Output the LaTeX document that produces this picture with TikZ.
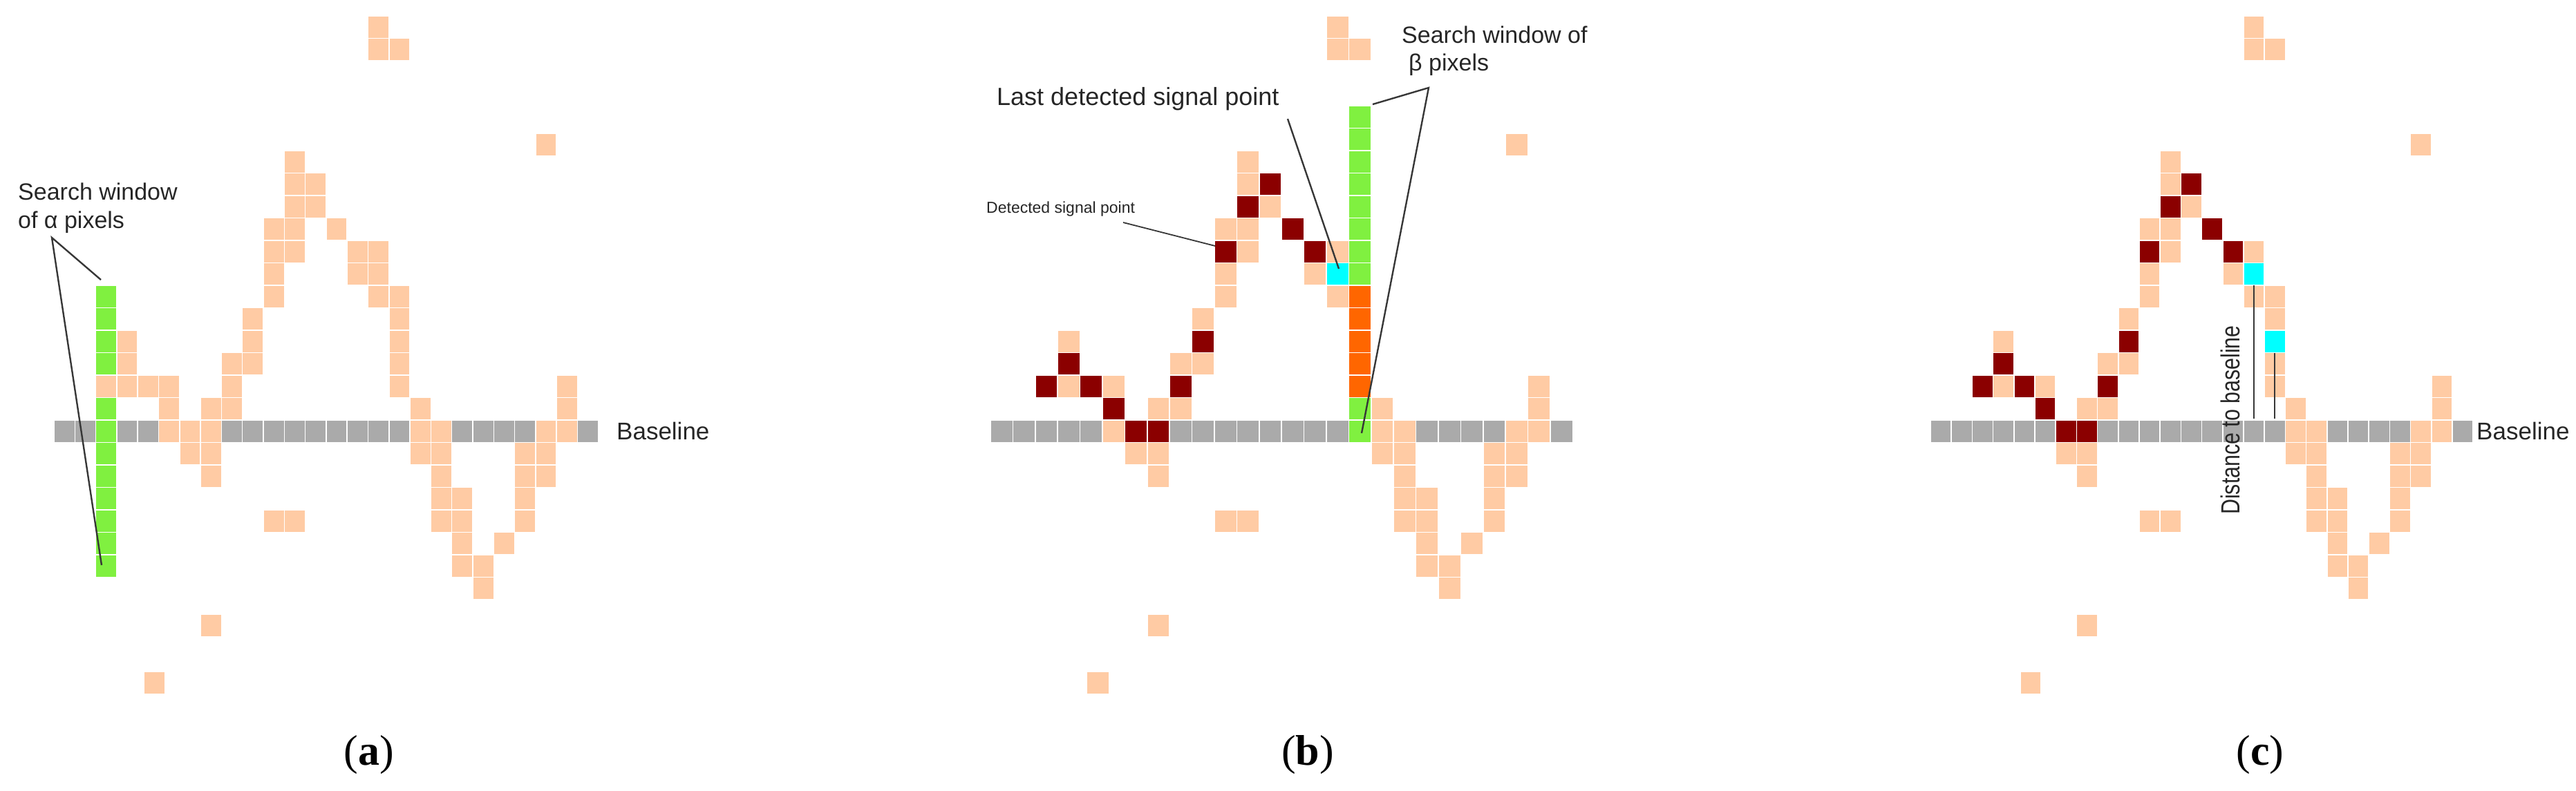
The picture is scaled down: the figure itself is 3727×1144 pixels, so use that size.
\documentclass[tikz,border=0pt]{standalone}
\usepackage{fontspec}
\setmainfont{Liberation Sans}
\newfontfamily\serifpanel{Liberation Serif}
\definecolor{peach}{RGB}{255,203,164}
\definecolor{basegray}{RGB}{170,170,170}
\definecolor{wgreen}{RGB}{128,240,64}
\definecolor{dred}{RGB}{139,0,0}
\definecolor{wcyan}{RGB}{0,255,255}
\definecolor{worange}{RGB}{255,102,0}
\definecolor{linegray}{RGB}{55,55,55}
\newcommand\pcells[4]{\foreach \c/\r in #4 {\fill[#3] ({#1+\c*#2+0.75},{608-32.5*\r+0.75}) rectangle ++({#2-1.5},31);}}
\def\baseL{0/0,1/0,2/0,3/0,4/0,5/0,6/0,7/0,8/0,9/0,10/0,11/0,12/0,13/0,14/0,15/0,16/0,17/0,18/0,19/0,20/0,21/0,22/0,23/0,24/0,25/0}
\def\sigL{15/18,15/17,16/17,23/12.75,2/2,3/4,3/3,3/2,4/2,5/2,5/1,5/0,6/0,6/-1,7/1,7/0,7/-1,7/-2,8/3,8/2,8/1,9/5,9/4,9/3,10/9,10/8,10/7,10/6,11/12,11/11,11/10,11/9,11/8,12/11,12/10,13/9,14/8,14/7,15/8,15/7,15/6,16/6,16/5,16/4,16/3,16/2,17/1,17/0,17/-1,18/0,18/-1,18/-2,18/-3,18/-4,19/-3,19/-4,19/-5,19/-6,20/-6,20/-7,21/-5,22/-1,22/-2,22/-3,22/-4,23/0,23/-1,23/-2,24/2,24/1,24/0,10/-4,11/-4,7/-8.65,4.3/-11.2}
\def\darkL{2/2,3/3,4/2,5/1,6/0,7/0,8/2,9/4,10/8,11/10,12/11,13/9,14/8}
\def\greenA{2/6,2/5,2/4,2/3,2/1,2/0,2/-1,2/-2,2/-3,2/-4,2/-5,2/-6}
\def\greenB{16/14,16/13,16/12,16/11,16/10,16/9,16/8,16/7,16/1,16/0}
\def\orangeB{16/6,16/5,16/4,16/3,16/2}
\def\cyanB{15/7}
\def\cyanC{15/7,16/4}
\def\grayC{5/0}
\tikzset{lbl/.style={anchor=west,inner sep=0pt,text=black!85},
  lead/.style={draw=linegray,line width=2.4pt},
  plabel/.style={font=\serifpanel\fontsize{62}{62}\selectfont,inner sep=0pt}}
\begin{document}
\begin{tikzpicture}[x=1pt,y=-1pt]
\useasboundingbox (0,0) rectangle (3727,1144);
% panel a
\pcells{78}{30.3}{basegray}{\baseL}
\pcells{78}{30.3}{peach}{\sigL}
\pcells{78}{30.3}{wgreen}{\greenA}
% panel b
\pcells{1433}{32.4}{basegray}{\baseL}
\pcells{1433}{32.4}{peach}{\sigL}
\pcells{1433}{32.4}{dred}{\darkL}
\pcells{1433}{32.4}{wcyan}{\cyanB}
\pcells{1433}{32.4}{wgreen}{\greenB}
\pcells{1433}{32.4}{worange}{\orangeB}
% panel c
\pcells{2793}{30.2}{basegray}{\baseL}
\pcells{2793}{30.2}{peach}{\sigL}
\pcells{2793}{30.2}{basegray}{\grayC}
\pcells{2793}{30.2}{dred}{\darkL}
\pcells{2793}{30.2}{wcyan}{\cyanC}
% labels a
\node[lbl,font=\fontsize{34}{40}\selectfont] (sa1) at (26,277) {Search window};
\node[lbl,font=\fontsize{34}{40}\selectfont] (sa2) at (26,322) {of α pixels};
\coordinate (aA) at (75,344);
\coordinate (aT) at (146,405);
\coordinate (aB) at (147,818);
\draw[lead] (aT) -- (aA) -- (aB);
\node[lbl,font=\fontsize{35}{40}\selectfont] (bla) at (892,624) {Baseline};
% labels b
\node[lbl,font=\fontsize{23}{28}\selectfont] (dsp) at (1427,303) {Detected signal point};
\coordinate (dsA) at (1625,322);
\coordinate (dsB) at (1758,356);
\draw[lead,line width=1.8pt] (dsA) -- (dsB);
\node[lbl,font=\fontsize{36}{40}\selectfont] (ldsp) at (1442,143) {Last detected signal point};
\coordinate (ldA) at (1863,172);
\coordinate (ldB) at (1937,389);
\draw[lead] (ldA) -- (ldB);
\node[lbl,font=\fontsize{34}{40}\selectfont] (sb1) at (2028,50) {Search window of};
\node[lbl,font=\fontsize{34}{40}\selectfont] (sb2) at (2038,94) {β pixels};
\coordinate (bA) at (2067,127);
\coordinate (bT) at (1986,151);
\coordinate (bB) at (1970,627);
\draw[lead] (bT) -- (bA) -- (bB);
% labels c
\node[font=\fontsize{38}{40}\selectfont,rotate=90,xscale=0.8,inner sep=0pt,text=black!85] (dtb) at (3227,608) {Distance to baseline};
\coordinate (c1t) at (3261,413);
\coordinate (c1b) at (3261,606);
\coordinate (c2t) at (3291,511);
\coordinate (c2b) at (3291,606);
\draw[lead,line width=2pt] (c1t) -- (c1b);
\draw[lead,line width=2pt] (c2t) -- (c2b);
\node[lbl,font=\fontsize{35}{40}\selectfont] (blc) at (3583,624) {Baseline};
% panel labels
\node[plabel] (pa) at (534,1093) {(\textbf{a})};
\node[plabel] (pb) at (1892,1093) {(\textbf{b})};
\node[plabel] (pc) at (3270,1093) {(\textbf{c})};
\end{tikzpicture}
\end{document}
